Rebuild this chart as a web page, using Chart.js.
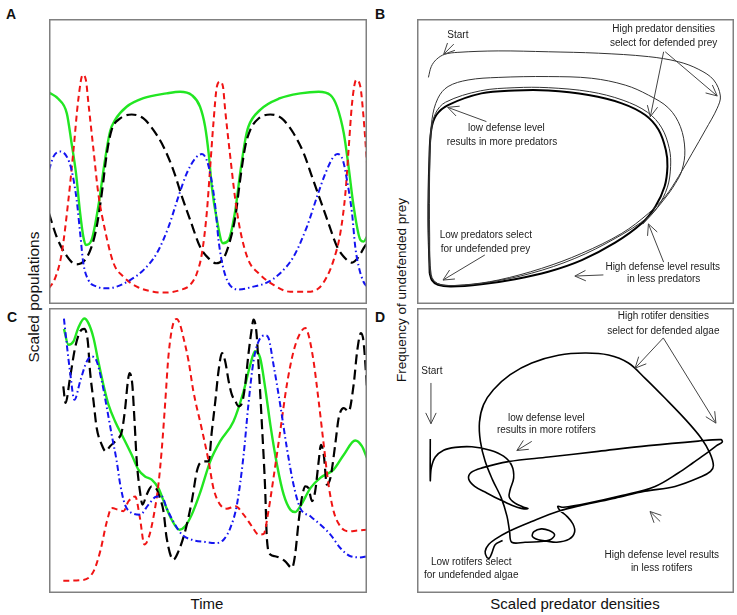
<!DOCTYPE html>
<html>
<head>
<meta charset="utf-8">
<script src="https://cdn.jsdelivr.net/npm/chart.js@4.4.1/dist/chart.umd.min.js"></script>
<style>
  html,body{margin:0;padding:0;background:#fff;}
  #wrap{position:relative;width:737px;height:615px;overflow:hidden;font-family:"Liberation Sans",Arial,sans-serif;color:#111;}
  canvas{position:absolute;}
  .lbl{position:absolute;white-space:nowrap;transform:translate(-50%,-50%);}
  .rot{transform:translate(-50%,-50%) rotate(-90deg);}
  .pl{position:absolute;font-weight:bold;font-size:14px;transform:translate(-50%,-50%);}
</style>
</head>
<body>
<div id="wrap">
  <canvas id="cA" width="318" height="285" style="left:49px;top:19px"></canvas>
  <canvas id="cB" width="317" height="285" style="left:417px;top:19px"></canvas>
  <canvas id="cC" width="318" height="285" style="left:49px;top:308px"></canvas>
  <canvas id="cD" width="317" height="285" style="left:417px;top:308px"></canvas>
  <div class="pl" style="left:11px;top:14px">A</div>
  <div class="pl" style="left:380px;top:14px">B</div>
  <div class="pl" style="left:12px;top:317px">C</div>
  <div class="pl" style="left:380px;top:317px">D</div>
  <div class="lbl rot" style="left:34px;top:297px;font-size:15.5px">Scaled populations</div>
  <div class="lbl" style="left:207px;top:603px;font-size:15px">Time</div>
  <div class="lbl rot" style="left:401px;top:290px;font-size:13.5px">Frequency of undefended prey</div>
  <div class="lbl" style="left:575px;top:603px;font-size:15px">Scaled predator densities</div>
</div>
<script>
// ---------- Panel A (time series, x: time 0-100, y: scaled population 0-100)
const aGreen = [[0,74.2],[2.9,72.0],[5.6,66.9],[7.1,56.4],[8.5,45.8],[9.8,31.8],[10.8,23.6],[11.6,20.7],[13.4,22.5],[15.5,34.2],[17.6,50.5],[19.2,60.5],[20.8,64.6],[24.4,69.2],[29.7,72.2],[37.0,73.9],[41.2,74.5],[44.9,73.3],[47.5,69.2],[49.1,62.2],[50.2,52.9],[51.2,41.2],[52.8,29.5],[54.7,21.3],[56.5,22.5],[58.6,33.0],[60.1,45.8],[61.7,57.5],[62.7,62.2],[66.4,68.1],[72.7,72.2],[79.0,73.9],[84.8,74.5],[88.5,73.3],[90.6,69.2],[92.7,59.9],[94.2,48.2],[95.8,34.2],[97.9,22.5],[98.9,21.9],[100,23.6]];
const aBlack = [[0,31.8],[2.4,23.6],[5.0,17.8],[8.5,13.9],[11.3,15.4],[13.4,20.1],[15.0,27.1],[16.6,38.8],[18.2,52.9],[19.7,61.1],[22.4,65.1],[26.0,66.5],[29.7,65.1],[32.8,61.1],[36.0,55.2],[39.1,47.0],[41.8,37.7],[44.4,29.5],[47.5,20.1],[50.2,16.0],[52.6,14.3],[54.9,16.0],[57.0,22.5],[58.6,30.6],[60.1,43.5],[61.7,55.2],[63.3,61.1],[65.9,65.1],[69.6,66.5],[73.2,65.1],[76.9,59.9],[80.1,52.9],[82.7,44.7],[85.3,36.5],[87.9,28.3],[90.6,20.1],[92.7,16.6],[95.3,14.5],[97.4,16.6],[98.9,19.5],[100,21.3]];
const aRed = [[0,5.5],[1.9,9.0],[4.0,17.8],[6.1,36.5],[7.7,54.0],[9.2,71.6],[10.6,80.4],[11.6,78.6],[12.4,70.4],[14.0,54.0],[15.5,38.8],[17.6,26.0],[20.3,14.3],[23.4,9.6],[27.6,6.1],[32.8,4.3],[37.0,4.0],[41.2,4.9],[44.4,6.7],[46.5,10.8],[48.1,17.8],[49.6,31.8],[50.7,48.2],[51.7,63.4],[52.8,76.3],[53.8,78.0],[54.7,76.3],[55.4,68.1],[57.0,51.7],[58.6,36.5],[60.1,26.0],[62.7,15.4],[65.9,10.8],[70.6,6.7],[75.9,4.3],[81.1,4.3],[84.8,5.5],[87.4,9.6],[89.5,15.4],[91.6,24.8],[93.2,38.8],[94.2,54.0],[95.3,70.4],[96.6,78.6],[97.9,76.3],[98.9,65.7],[100,49.4]];
const aBlue = [[0,47.0],[1.4,51.7],[3.5,53.5],[5.6,51.7],[7.1,47.0],[8.7,36.5],[9.8,24.8],[10.8,14.3],[12.4,8.4],[15.0,6.1],[18.2,5.5],[21.3,6.1],[25.5,8.4],[29.7,11.9],[33.9,17.8],[37.6,27.1],[40.7,37.7],[43.3,45.8],[46.0,51.1],[48.1,52.6],[49.6,50.5],[50.9,44.7],[52.3,34.2],[53.3,22.5],[54.7,13.1],[56.5,7.3],[59.6,5.1],[64.3,6.1],[68.5,7.5],[72.7,10.8],[76.9,16.6],[81.1,27.1],[84.3,37.7],[86.9,45.8],[89.5,51.7],[90.8,52.6],[92.4,50.5],[93.7,43.5],[95.3,31.8],[96.3,20.1],[97.4,13.1],[98.9,7.8],[100,6.1]];

// ---------- Panel C (time series)
const cGreen = [[4.7,92.7],[6.1,87.1],[7.7,88.3],[9.2,93.0],[11.1,96.3],[12.4,94.7],[14.0,89.5],[15.5,81.3],[17.1,73.1],[18.7,66.1],[20.8,60.2],[23.4,54.4],[26.0,48.5],[28.1,43.3],[30.2,40.9],[32.3,39.8],[34.4,36.8],[36.5,31.0],[38.6,25.7],[41.0,22.2],[42.8,23.4],[44.9,27.5],[47.5,35.1],[50.7,46.2],[53.8,53.2],[58.0,60.2],[61.2,70.8],[63.3,80.1],[64.8,84.8],[66.4,82.5],[68.0,71.9],[69.6,59.1],[71.7,45.0],[73.8,34.5],[75.9,29.2],[77.4,28.4],[79.0,30.4],[82.2,36.8],[85.3,40.4],[89.5,43.3],[92.7,48.5],[96.3,53.5],[98.4,51.5],[100,47.4]];
const cBlack = [[4.5,72.5],[5.2,66.7],[6.6,75.4],[8.2,86.0],[9.8,91.8],[11.1,92.7],[12.2,88.3],[12.9,77.8],[14.0,67.3],[15.0,57.9],[16.6,52.0],[17.8,49.7],[19.2,51.5],[21.3,53.8],[22.9,56.7],[23.9,64.3],[24.8,74.3],[25.3,77.2],[26.2,73.1],[26.9,60.2],[27.6,46.2],[28.6,35.7],[29.4,31.0],[30.7,34.5],[32.3,37.4],[33.9,36.3],[34.9,33.3],[36.0,28.7],[37.0,19.3],[39.1,11.7],[40.7,14.6],[42.8,21.6],[44.9,32.2],[46.5,42.7],[47.5,45.6],[49.1,46.2],[50.2,46.2],[51.2,56.7],[52.3,67.3],[53.3,77.8],[54.4,84.2],[55.4,81.3],[56.5,74.3],[57.5,69.6],[58.6,67.3],[59.6,65.5],[60.7,66.7],[61.7,73.1],[62.7,83.6],[63.8,93.0],[64.3,95.9],[65.2,91.8],[65.9,80.1],[66.9,60.2],[68.0,35.7],[68.5,19.3],[69.6,13.5],[71.1,12.9],[72.7,12.3],[74.3,11.1],[76.4,8.8],[77.4,13.5],[78.5,25.1],[79.5,33.3],[80.6,37.4],[81.6,36.8],[82.7,32.2],[83.7,35.7],[84.8,46.2],[85.5,52.0],[86.4,48.5],[87.4,38.0],[88.5,40.4],[90.0,52.0],[91.1,61.4],[92.7,64.9],[94.2,63.7],[95.8,73.1],[96.9,84.8],[98.1,91.2],[98.9,88.3],[100,71.9]];
const cRed = [[4.5,4.3],[10.8,4.6],[14.0,7.6],[16.1,14.6],[18.2,25.1],[19.7,29.8],[21.8,29.2],[23.4,28.7],[25.0,32.2],[27.1,33.9],[28.6,26.3],[30.0,17.0],[31.3,19.3],[32.8,26.3],[34.4,38.0],[35.5,50.9],[36.5,66.1],[37.6,83.6],[39.1,94.7],[40.2,96.1],[41.2,94.2],[42.3,89.5],[43.9,81.3],[45.4,70.8],[48.1,57.3],[50.2,46.2],[51.7,36.8],[53.8,31.0],[55.9,29.6],[58.6,30.4],[61.2,27.5],[63.8,23.4],[65.9,20.5],[67.5,20.7],[69.0,28.7],[70.6,40.4],[72.7,56.7],[74.8,73.1],[76.9,84.8],[79.0,91.2],[80.6,93.0],[81.6,90.6],[83.2,81.3],[84.8,67.3],[86.4,52.0],[87.9,38.0],[89.5,28.7],[91.6,23.4],[94.2,21.6],[96.9,21.9],[100,22.2]];
const cBlue = [[4.7,96.3],[5.6,87.1],[6.6,77.8],[8.0,67.8],[9.8,74.3],[11.9,81.3],[13.4,83.0],[15.0,81.3],[16.6,74.3],[18.2,64.9],[19.7,55.6],[21.3,46.2],[22.4,38.0],[23.9,31.0],[26.0,28.1],[28.6,27.5],[31.3,31.0],[33.9,33.9],[35.5,33.9],[37.0,29.8],[39.1,25.1],[41.8,20.5],[44.9,18.7],[49.1,17.9],[52.3,17.5],[54.9,18.7],[57.0,22.8],[59.1,31.0],[61.2,48.5],[62.7,66.1],[64.3,81.3],[65.9,88.3],[68.0,90.4],[69.0,89.5],[70.6,80.1],[72.7,66.1],[74.8,50.9],[76.9,38.0],[79.0,29.8],[82.2,26.9],[85.3,24.0],[88.5,20.5],[91.6,15.8],[94.8,12.9],[97.9,12.5],[100,12.9]];

// ---------- Panel B (phase plot: x predator density, y frequency of undefended prey)
const bTransient = [[3.6,79.5],[4.5,83.3],[6.1,85.8],[8.7,87.6],[12.9,88.3],[25.6,88.8],[41.4,88.5],[57.2,88.0],[73.0,86.8],[82.5,85.0],[88.9,82.3],[93.6,78.6],[95.7,73.0],[94.7,68.7],[91.0,61.1],[86.8,52.9],[82.5,44.7],[78.3,37.7],[73.0,31.8],[64.6,24.8],[52.0,17.8],[39.3,12.5],[25.6,8.4],[15.0,6.7],[8.2,6.7],[5.0,8.4],[4.0,13.1],[3.6,29.5],[3.9,50.5],[4.7,64.6],[6.6,72.2],[9.8,76.3],[16.1,78.6],[25.6,79.5],[41.4,79.8],[55.1,79.2],[65.7,76.8],[73.0,73.3],[79.4,68.7],[83.1,62.2],[84.5,54.0],[83.6,47.0],[81.5,42.3],[78.3,37.2],[73.0,30.6],[62.5,23.0],[49.8,16.0],[36.1,10.8],[22.4,7.6],[11.9,6.5],[6.6,7.1],[4.5,10.2],[4.0,23.6],[4.0,47.0],[4.5,60.5],[5.8,66.8],[9.0,70.8],[20.0,74.8],[30.9,75.9],[41.4,75.9],[54.5,74.5],[65.0,71.5],[72.8,67.2],[77.2,61.8],[79.6,54.5],[80.0,48.2],[79.0,41.0],[75.9,34.0],[71.2,28.0]];
const bCycle = [[4.0,10.8],[3.6,29.5],[3.9,50.5],[4.5,61.1],[6.1,66.3],[9.8,69.8],[20.3,73.9],[30.9,74.9],[41.4,74.9],[54.1,73.3],[64.6,70.4],[72.0,66.3],[76.2,61.1],[78.5,54.0],[79.0,48.2],[78.1,41.2],[75.2,34.2],[70.9,28.3],[62.5,21.5],[52.0,15.4],[41.4,11.3],[30.9,8.7],[20.3,6.9],[10.8,6.1],[6.6,6.7],[4.7,8.4],[4.0,10.8]];
const bLabels = [["Start",12.9,94.4],["High predator densities",77.8,96.4],["select for defended prey",77.8,91.5],["low defense level",28.2,61.6],["results in more predators",26.8,56.6],["Low predators select",21.7,24.2],["for undefended prey",21.6,19.2],["High defense level results",77.5,13.0],["in less predators",77.8,8.8]];
const bArrows = [[11.6,91.2,8.4,87.6],[77.8,88.5,73.6,65.7],[78.3,88.5,94.7,73.0],[21.9,64.0,9.7,69.0],[21.4,17.2,8.2,8.4],[58.8,10.2,49.8,9.8],[77.8,14.7,73.0,28.1]];

// ---------- Panel D (phase plot, experimental)
const dPath = [[4.19,54.0],[4.19,39.5],[4.51,43.9],[5.77,47.7],[8.39,50.1],[12.07,51.1],[17.3,51.3],[23.1,50.1],[27.3,48.0],[29.9,44.7],[30.5,40.4],[29.4,36.3],[29.1,33.7],[30.8,31.6],[33.3,30.3],[35.0,29.6],[32.9,29.7],[29.9,30.8],[26.2,32.7],[22.0,35.1],[18.2,37.4],[16.3,40.0],[17.1,42.3],[20.5,43.9],[28.8,46.1],[41.5,47.7],[57.2,49.7],[73.0,51.7],[88.7,53.3],[95.9,53.8],[96.3,53.0],[94.5,51.7],[91.4,49.1],[87.2,45.8],[82.4,42.1],[75.1,37.4],[64.6,34.2],[54.1,31.6],[46.2,30.1],[44.4,30.4],[45.1,29.0],[47.3,26.9],[49.2,24.2],[49.7,21.3],[48.0,18.9],[44.1,17.8],[41.0,18.2],[38.3,18.7],[36.4,19.9],[36.9,21.5],[39.2,22.5],[41.7,21.9],[43.4,20.4],[42.0,18.7],[38.3,18.0],[34.1,17.8],[29.9,17.8],[29.2,21.6],[28.4,26.9],[26.6,33.3],[23.8,39.8],[21.5,46.2],[20.0,53.2],[19.7,59.9],[21.0,66.1],[24.1,71.3],[29.4,76.6],[36.2,80.7],[44.6,83.4],[53.0,84.2],[60.4,83.5],[66.7,80.7],[71.9,75.4],[78.2,68.4],[84.5,61.1],[89.6,54.4],[92.4,49.1],[93.5,44.7],[92.6,42.7],[89.8,40.9],[81.4,37.4],[71.9,35.7],[62.5,33.3],[52.0,30.8],[44.6,28.7],[36.2,25.1],[28.9,21.6],[24.7,18.9],[22.6,17.0],[21.5,14.6],[22.0,12.6],[22.8,12.2],[23.6,14.0],[24.7,17.0],[27.0,18.4]];
const dLabels = [["Start",4.7,77.8],["High rotifer densities",77.7,97.1],["select for defended algae",77.7,91.8],["low defense level",40.8,61.2],["results in more rotifers",40.8,57.1],["Low rotifers select",17.1,10.7],["for undefended algae",17.1,6.4],["High defense level results",77.2,13.4],["in less rotifers",77.2,8.8]];
const dArrows = [[77.7,89.5,68.8,78.9],[77.7,89.5,94.3,59.6],[4.4,73.7,4.4,59.4],[36.2,53.2,31.5,50.0],[76.7,25.1,73.5,28.6]];

const toXY = arr => arr.map(p => ({x:p[0], y:p[1]}));

function framePlugin(){
  return {id:'frame', afterDraw(chart){
    const ctx = chart.ctx, w = chart.width, h = chart.height;
    ctx.save(); ctx.strokeStyle = '#808080'; ctx.lineWidth = 1.5;
    ctx.strokeRect(0.75, 0.75, w-1.5, h-1.5); ctx.restore();
  }};
}
function annotPlugin(labels, arrows){
  return {id:'annot', afterDatasetsDraw(chart){
    const ctx = chart.ctx, xs = chart.scales.x, ys = chart.scales.y;
    ctx.save();
    ctx.strokeStyle = '#444'; ctx.lineWidth = 1;
    arrows.forEach(a => {
      const x1 = xs.getPixelForValue(a[0]), y1 = ys.getPixelForValue(a[1]);
      const x2 = xs.getPixelForValue(a[2]), y2 = ys.getPixelForValue(a[3]);
      const ang = Math.atan2(y2-y1, x2-x1), L = 12, w = 0.45;
      ctx.beginPath(); ctx.moveTo(x1,y1); ctx.lineTo(x2,y2);
      ctx.moveTo(x2 - L*Math.cos(ang-w), y2 - L*Math.sin(ang-w));
      ctx.lineTo(x2,y2);
      ctx.lineTo(x2 - L*Math.cos(ang+w), y2 - L*Math.sin(ang+w));
      ctx.stroke();
    });
    ctx.fillStyle = '#222'; ctx.font = '10px "Liberation Sans", Arial, sans-serif';
    ctx.textAlign = 'center'; ctx.textBaseline = 'middle';
    labels.forEach(l => ctx.fillText(l[0], xs.getPixelForValue(l[1]), ys.getPixelForValue(l[2])));
    ctx.restore();
  }};
}
function baseOpts(){
  return {
    responsive:false, animation:false, events:[],
    layout:{padding:0},
    plugins:{legend:{display:false}, tooltip:{enabled:false}},
    elements:{point:{radius:0}},
    scales:{
      x:{type:'linear', min:0, max:100, display:false},
      y:{type:'linear', min:0, max:100, display:false}
    }
  };
}
function tsDatasets(g,k,r,b){
  const common = {showLine:true, pointRadius:0, cubicInterpolationMode:'monotone', fill:false};
  return [
    Object.assign({data:toXY(b), borderColor:'#1414f0', borderWidth:2, borderDash:[6,3,1.5,3]}, common),
    Object.assign({data:toXY(r), borderColor:'#f01414', borderWidth:2, borderDash:[6,4]}, common),
    Object.assign({data:toXY(k), borderColor:'#000000', borderWidth:2.2, borderDash:[10,5]}, common),
    Object.assign({data:toXY(g), borderColor:'#22e622', borderWidth:2.4}, common)
  ];
}
new Chart(document.getElementById('cA'), {type:'scatter', data:{datasets:tsDatasets(aGreen,aBlack,aRed,aBlue)}, options:baseOpts(), plugins:[framePlugin()]});
new Chart(document.getElementById('cC'), {type:'scatter', data:{datasets:tsDatasets(cGreen,cBlack,cRed,cBlue)}, options:baseOpts(), plugins:[framePlugin()]});

new Chart(document.getElementById('cB'), {type:'scatter', data:{datasets:[
  {data:toXY(bTransient), showLine:true, borderColor:'#333', borderWidth:1, tension:0.35, pointRadius:0},
  {data:toXY(bCycle), showLine:true, borderColor:'#000', borderWidth:2, tension:0.35, pointRadius:0}
]}, options:baseOpts(), plugins:[framePlugin(), annotPlugin(bLabels,bArrows)]});

new Chart(document.getElementById('cD'), {type:'scatter', data:{datasets:[
  {data:toXY(dPath), showLine:true, borderColor:'#000', borderWidth:1.6, tension:0.35, pointRadius:0}
]}, options:baseOpts(), plugins:[framePlugin(), annotPlugin(dLabels,dArrows)]});
</script>
</body>
</html>
